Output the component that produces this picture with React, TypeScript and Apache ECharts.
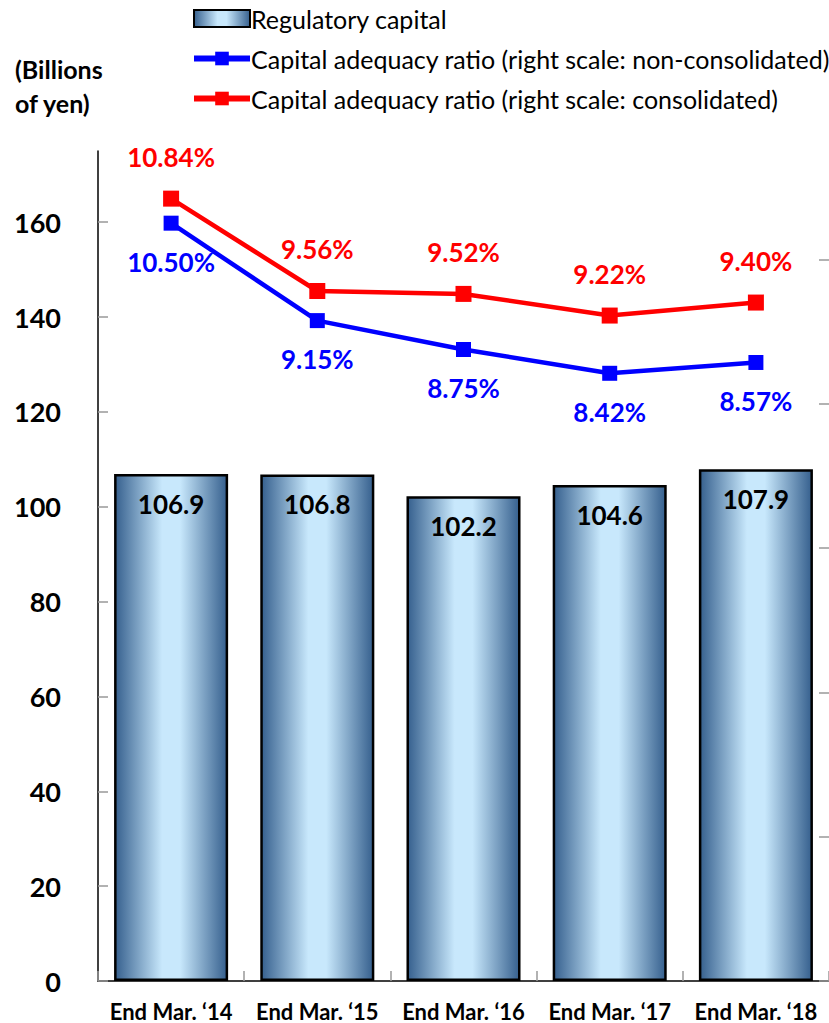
import React, { useEffect, useRef } from "react";
import * as echarts from "echarts";

const categories = ["End Mar. \u201814", "End Mar. \u201815", "End Mar. \u201816", "End Mar. \u201817", "End Mar. \u201818"];
const regulatoryCapital = [106.9, 106.8, 102.2, 104.6, 107.9];
const ratioNonConsolidated = [10.5, 9.15, 8.75, 8.42, 8.57];
const ratioConsolidated = [10.84, 9.56, 9.52, 9.22, 9.4];
const leftTicks = [0, 20, 40, 60, 80, 100, 120, 140, 160];
const rightTicks = [0, 2, 4, 6, 8, 10];

const FONT = "Lato, 'Open Sans', sans-serif";

export default function App() {
  const ref = useRef<HTMLDivElement>(null);
  useEffect(() => {
    if (!ref.current) return;
    const chart = echarts.init(ref.current, undefined, { renderer: "svg" });
    const barGradient = new echarts.graphic.LinearGradient(0, 0, 1, 0, [
      { offset: 0, color: "#36608e" },
      { offset: 0.42, color: "#c8e8fc" },
      { offset: 0.58, color: "#c8e8fc" },
      { offset: 1, color: "#36608e" },
    ]);
    chart.setOption({
      animation: false,
      textStyle: { fontFamily: FONT },
      legend: {
        orient: "vertical",
        left: 186,
        top: 1,
        itemWidth: 56,
        itemHeight: 17,
        itemGap: 15,
        textStyle: { fontSize: 25, color: "#000", fontFamily: FONT, padding: [0, 0, 0, -4] },
        data: [
          { name: "Regulatory capital", icon: "rect" },
          { name: "Capital adequacy ratio (right scale: non-consolidated)", lineStyle: { width: 6 } },
          { name: "Capital adequacy ratio (right scale: consolidated)", lineStyle: { width: 6 } },
        ],
      },
      graphic: [
        {
          type: "text",
          left: 15,
          top: 52,
          style: {
            text: "(Billions\nof yen)",
            font: `bold 25px ${FONT}`,
            fill: "#000",
            lineHeight: 34,
          },
        },
      ],
      grid: { left: 98, right: -7, top: 151, bottom: 42, containLabel: false },
      xAxis: {
        type: "category",
        data: categories,
        boundaryGap: true,
        axisLine: { lineStyle: { color: "#000", width: 1.5 } },
        axisTick: { show: true, inside: true, length: 10, lineStyle: { color: "#999", width: 1.5 } },
        axisLabel: { color: "#000", fontSize: 22, fontWeight: "bold", margin: 19, fontFamily: FONT, interval: 0, hideOverlap: false },
      },
      yAxis: [
        {
          type: "value",
          min: 0,
          max: 175,
          splitLine: { show: false },
          axisLine: { show: true, lineStyle: { color: "#000", width: 1.5 } },
          axisTick: { show: true, inside: true, length: 10, lineStyle: { color: "#999", width: 1.5 }, customValues: leftTicks },
          axisLabel: { color: "#000", fontSize: 27, fontWeight: "bold", margin: 37, fontFamily: FONT, customValues: leftTicks },
        },
        {
          type: "value",
          min: 0,
          max: 11.5,
          position: "right",
          splitLine: { show: false },
          axisLine: { show: false },
          axisTick: { show: true, inside: true, length: 10, lineStyle: { color: "#999", width: 1.5 }, customValues: rightTicks },
          axisLabel: { show: false },
        },
      ],
      series: [
        {
          name: "Regulatory capital",
          type: "bar",
          data: regulatoryCapital,
          barWidth: "78%",
          itemStyle: { color: barGradient, borderColor: "#000", borderWidth: 2.5 },
          label: {
            show: true,
            position: "insideTop",
            distance: 17,
            color: "#000",
            fontSize: 26,
            fontWeight: "bold",
            fontFamily: FONT,
            formatter: (p: any) => p.value.toFixed(1),
          },
          z: 1,
        },
        {
          name: "Capital adequacy ratio (right scale: non-consolidated)",
          type: "line",
          yAxisIndex: 1,
          data: ratioNonConsolidated,
          symbol: "rect",
          symbolSize: 15,
          lineStyle: { color: "#0000ff", width: 4.5 },
          itemStyle: { color: "#0000ff" },
          label: {
            show: true,
            position: "bottom",
            distance: 18,
            color: "#0000ff",
            fontSize: 26,
            fontWeight: "bold",
            fontFamily: FONT,
            formatter: (p: any) => p.value.toFixed(2) + "%",
          },
          z: 3,
        },
        {
          name: "Capital adequacy ratio (right scale: consolidated)",
          type: "line",
          yAxisIndex: 1,
          data: ratioConsolidated,
          symbol: "rect",
          symbolSize: 16,
          lineStyle: { color: "#ff0000", width: 4.5 },
          itemStyle: { color: "#ff0000" },
          label: {
            show: true,
            position: "top",
            distance: 21,
            color: "#ff0000",
            fontSize: 26,
            fontWeight: "bold",
            fontFamily: FONT,
            formatter: (p: any) => p.value.toFixed(2) + "%",
          },
          z: 3,
        },
      ],
    });
    return () => chart.dispose();
  }, []);
  return <div ref={ref} style={{ width: 829, height: 1023, position: "absolute", left: 0, top: 0 }} />;
}
